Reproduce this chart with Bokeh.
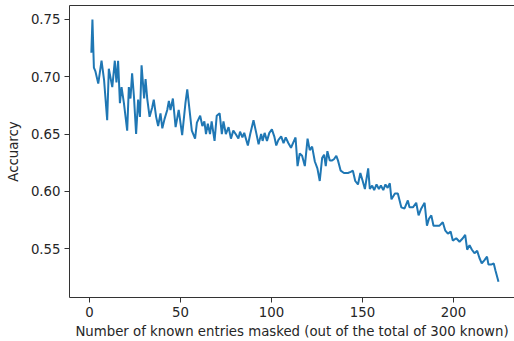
from bokeh.plotting import figure
from bokeh.models import FixedTicker, PrintfTickFormatter, LinearAxis, Range1d
from bokeh.embed import file_html
from bokeh.resources import INLINE

masked = [1, 1.6, 2.4, 3.2, 4.8, 6.6, 8, 9.7, 10.6, 12.5, 13.9, 14.8, 15.7, 16.7, 17.6, 18.9,
          20.7, 21.6, 22.5, 23.4, 24.4, 25.6, 26.7, 27.7, 28.6, 30, 30.8, 31.7, 33, 34.4, 35.3,
          36.6, 37.7, 39, 40, 41.2, 42.7, 43.6, 44.5, 45.8, 47.3, 49, 50.9, 52.7, 53.7, 56.2,
          58, 59, 60.8, 62, 63.1, 64, 65, 66.2, 67.1, 68.7, 69.9, 71.5, 72.7, 73.6, 74.9, 76.4,
          77.7, 79, 80.3, 81.8, 82.7, 84, 85, 87, 88.3, 90.1, 91.6, 92.9, 94.3, 95.1, 96.2,
          97.5, 98.8, 100.2, 101.5, 102.6, 103.8, 105.3, 106.6, 107.8, 109.3, 110.7, 113.2,
          114.3, 115.5, 116.8, 118.3, 119.8, 121, 122.3, 123.8, 125.2, 126.5, 127.8, 128.9,
          129.8, 130.7, 132, 133.3, 134.3, 135.6, 136.5, 138, 139.8, 142, 143.5, 144.7, 146,
          147.5, 148.8, 149.9, 151.3, 153.1, 154, 155.3, 156.4, 157.7, 159, 160.1, 161.4,
          162.6, 163.8, 165, 165.9, 167.8, 169.4, 171.3, 173.1, 174.9, 175.8, 177.7, 179.5,
          180.8, 182.3, 184.1, 185.4, 186.5, 187.8, 189, 190.5, 192.3, 194.1, 195.4, 196.9,
          198.4, 199.6, 201.5, 203.3, 205.1, 206.4, 207.5, 208.8, 210.1, 211.5, 213, 214.2,
          215.5, 217, 218.4, 219.2, 220.6, 222.1, 223, 224.7]

accuracy = [0.721, 0.750, 0.708, 0.705, 0.694, 0.714, 0.697, 0.662, 0.707, 0.691, 0.714, 0.695,
            0.714, 0.677, 0.691, 0.677, 0.653, 0.691, 0.681, 0.703, 0.683, 0.650, 0.680, 0.665,
            0.710, 0.681, 0.698, 0.681, 0.665, 0.673, 0.680, 0.665, 0.657, 0.668, 0.655, 0.663,
            0.671, 0.679, 0.671, 0.681, 0.656, 0.671, 0.649, 0.677, 0.689, 0.653, 0.646, 0.660,
            0.666, 0.657, 0.661, 0.650, 0.659, 0.650, 0.661, 0.644, 0.666, 0.668, 0.650, 0.661,
            0.650, 0.656, 0.646, 0.653, 0.650, 0.646, 0.652, 0.647, 0.651, 0.640, 0.650, 0.662,
            0.651, 0.641, 0.650, 0.644, 0.651, 0.644, 0.651, 0.654, 0.648, 0.640, 0.645, 0.648,
            0.642, 0.647, 0.642, 0.638, 0.647, 0.622, 0.633, 0.631, 0.622, 0.646, 0.636, 0.639,
            0.626, 0.620, 0.609, 0.629, 0.632, 0.622, 0.635, 0.627, 0.627, 0.628, 0.631, 0.627,
            0.618, 0.616, 0.616, 0.617, 0.618, 0.609, 0.606, 0.616, 0.610, 0.602, 0.620, 0.602,
            0.605, 0.601, 0.606, 0.602, 0.605, 0.601, 0.606, 0.603, 0.607, 0.593, 0.598, 0.598,
            0.586, 0.585, 0.592, 0.586, 0.586, 0.590, 0.579, 0.585, 0.590, 0.570, 0.576, 0.579,
            0.570, 0.570, 0.570, 0.573, 0.566, 0.563, 0.565, 0.557, 0.559, 0.556, 0.559, 0.562,
            0.549, 0.553, 0.549, 0.546, 0.548, 0.542, 0.537, 0.540, 0.543, 0.536, 0.536, 0.537,
            0.531, 0.521]

x_ticks = [0, 50, 100, 150, 200]
y_ticks = [0.55, 0.60, 0.65, 0.70, 0.75]
x_label = "Number of known entries masked (out of the total of 300 known)"
y_label = "Accuarcy"

FONT = "DejaVu Sans"
AX_COLOR = "#333333"
TXT_COLOR = "#262626"

p = figure(width=514, height=341, output_backend="svg", toolbar_location=None,
           x_range=Range1d(-11, 233.5), y_range=Range1d(0.5073, 0.7622),
           min_border_left=69, min_border_bottom=44, min_border_top=5, min_border_right=0)
p.outline_line_color = None
p.xgrid.visible = False
p.ygrid.visible = False
p.background_fill_color = "white"
p.border_fill_color = "white"

p.line(masked, accuracy, line_color="#1f77b4", line_width=2)

for ax in (p.xaxis[0], p.yaxis[0]):
    ax.axis_line_color = AX_COLOR
    ax.axis_line_width = 1
    ax.major_tick_line_color = AX_COLOR
    ax.major_tick_out = 5
    ax.major_tick_in = 0
    ax.minor_tick_line_color = None
    ax.major_label_text_font = FONT
    ax.major_label_text_font_size = "13.3px"
    ax.major_label_text_color = TXT_COLOR
    ax.axis_label_text_font = FONT
    ax.axis_label_text_font_size = "13.3px"
    ax.axis_label_text_font_style = "normal"
    ax.axis_label_text_color = TXT_COLOR

p.xaxis.ticker = FixedTicker(ticks=x_ticks)
p.xaxis.formatter = PrintfTickFormatter(format="%d")
p.xaxis.axis_label = x_label
p.xaxis.major_label_standoff = 4
p.xaxis.axis_label_standoff = 4

p.yaxis.ticker = FixedTicker(ticks=y_ticks)
p.yaxis.formatter = PrintfTickFormatter(format="%.2f")
p.yaxis.axis_label = y_label
p.yaxis.major_label_standoff = 4
p.yaxis.axis_label_standoff = 7

top = LinearAxis(ticker=FixedTicker(ticks=[]), axis_line_color=AX_COLOR,
                 major_tick_line_color=None, minor_tick_line_color=None,
                 major_label_text_font_size="0px")
p.add_layout(top, "above")

open("out.html", "w").write(file_html(p, INLINE))
